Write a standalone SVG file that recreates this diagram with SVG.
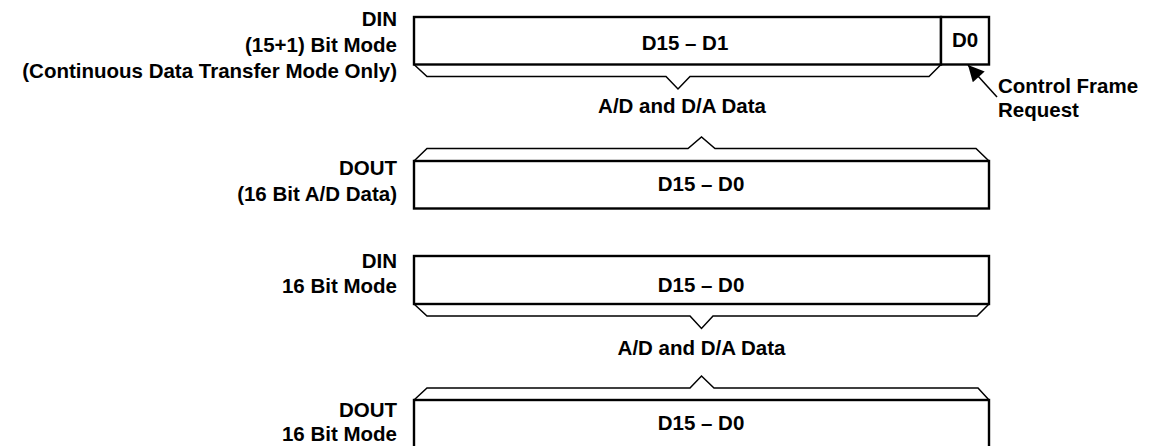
<svg xmlns="http://www.w3.org/2000/svg" width="1154" height="446" viewBox="0 0 1154 446">
<style>
text{font-family:"Liberation Sans",Arial,sans-serif;font-weight:bold;font-size:20.5px;fill:#000}
.lbl{text-anchor:end}
.mid{text-anchor:middle}
.box{fill:#fff;stroke:#000;stroke-width:2.4}
.brace{fill:none;stroke:#000;stroke-width:1.5;stroke-linejoin:miter}
</style>
<defs>
<marker id="ah" viewBox="0 0 10 10" refX="10" refY="5" markerWidth="18" markerHeight="16" markerUnits="userSpaceOnUse" orient="auto">
<path d="M0,0 L10,5 L0,10 z" fill="#000"/>
</marker>
</defs>
<rect width="1154" height="446" fill="#fff"/>

<g id="din-15plus1">
<text class="lbl" x="397" y="26">DIN</text>
<text class="lbl" x="397" y="52">(15+1) Bit Mode</text>
<text class="lbl" x="397" y="78">(Continuous Data Transfer Mode Only)</text>
<rect class="box" x="414" y="17" width="527" height="47.5"/>
<rect class="box" x="941" y="17" width="48" height="47.5"/>
<text class="mid" x="685" y="50">D15 – D1</text>
<text class="mid" x="965" y="47">D0</text>
</g>

<g id="dout-16bit-ad">
<text class="lbl" x="397" y="175">DOUT</text>
<text class="lbl" x="397" y="201">(16 Bit A/D Data)</text>
<rect class="box" x="414" y="161" width="575" height="47.5"/>
<text class="mid" x="701" y="191">D15 – D0</text>
</g>

<g id="din-16bit">
<text class="lbl" x="397" y="268">DIN</text>
<text class="lbl" x="397" y="293">16 Bit Mode</text>
<rect class="box" x="414" y="256" width="575" height="48"/>
<text class="mid" x="701" y="292">D15 – D0</text>
</g>

<g id="dout-16bit">
<text class="lbl" x="397" y="417">DOUT</text>
<text class="lbl" x="397" y="441">16 Bit Mode</text>
<rect class="box" x="414" y="400" width="575" height="60"/>
<text class="mid" x="701" y="430">D15 – D0</text>
</g>

<g id="label-ad-da-1">
<text class="mid" x="682" y="113">A/D and D/A Data</text>
</g>
<g id="label-ad-da-2">
<text class="mid" x="701.5" y="355">A/D and D/A Data</text>
</g>
<g id="label-control-frame">
<text x="998" y="93">Control Frame</text>
<text x="998" y="117">Request</text>
</g>

<g id="connectors">
<path class="brace" d="M414,64.5 L427,76.5 L666,76.5 L678,89 L690,76.5 L929,76.5 L941,64.5"/>
<path class="brace" d="M414,161 L427,148.5 L688,148.5 L701.5,137 L715,148.5 L976,148.5 L989,161"/>
<path class="brace" d="M414,304 L427,316 L690,316 L701.5,328.5 L713,316 L977,316 L989,304"/>
<path class="brace" d="M414,400 L427,388 L690,388 L701.5,376 L714,388 L978,388 L989,400"/>
<line x1="997" y1="97" x2="968" y2="65" stroke="#000" stroke-width="1.5" marker-end="url(#ah)"/>
</g>
</svg>
